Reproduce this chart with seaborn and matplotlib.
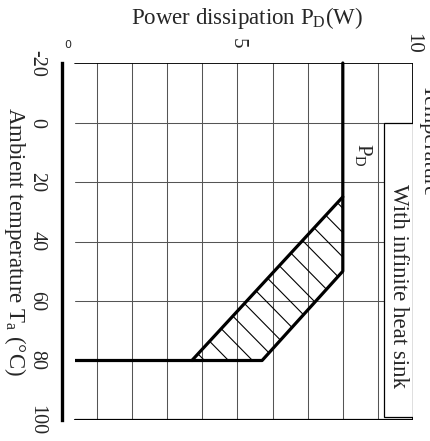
import numpy as np
import matplotlib
matplotlib.use("Agg")
import matplotlib.pyplot as plt
import matplotlib.transforms as mtransforms
from matplotlib.patches import Polygon, Rectangle
import seaborn as sns

# Axis ticks
temp_ticks = [-20, 0, 20, 40, 60, 80, 100]        # Ambient temperature Ta (°C)
power_ticks = [0, 5, 10]                           # Power dissipation PD (W)
power_grid = [1, 2, 3, 4, 5, 6, 7, 8, 9]
temp_grid = [0, 20, 40, 60]

# Derating curves
heatsink_ta = [-20, 50, 80, 80]
heatsink_pd = [8.0, 8.0, 5.7, 0.0]
inner_ta = [25, 80]
inner_pd = [8.0, 3.7]
# Hatched band between the two curves
band_ta = [25, 50, 80, 80]
band_pd = [8.0, 8.0, 5.7, 3.7]

sns.set_style("white")
plt.rcParams['font.family'] = ['Liberation Serif', 'DejaVu Serif']
plt.rcParams['mathtext.fontset'] = 'custom'
plt.rcParams['mathtext.rm'] = 'Liberation Serif'
plt.rcParams['mathtext.it'] = 'Liberation Serif:italic'

W, H = 431, 441
fig = plt.figure(figsize=(W / 100, H / 100), dpi=100)
x0, x1, y0, y1 = 62, 413, 63, 420
ax = fig.add_axes([x0 / W, 1 - y1 / H, (x1 - x0) / W, (y1 - y0) / H])
ax.set_xlim(0, 10)
ax.set_ylim(100, -20)
ax.set_xticks([])
ax.set_yticks([])
for s in ['top', 'right', 'bottom']:
    ax.spines[s].set_visible(False)
ax.spines['left'].set_linewidth(2.4)
ax.spines['left'].set_color('black')

inset = 13 / (x1 - x0)  # frame starts a little right of the PD = 0 axis

# grid
for p in power_grid:
    ax.axvline(p, color='#555555', lw=0.75, zorder=1)
for t in temp_grid:
    ax.axhline(t, xmin=inset, color='#555555', lw=0.75, zorder=1)

# frame
ax.axhline(-20, xmin=inset, color='black', lw=1.3, zorder=2)
ax.axhline(100, xmin=inset, color='black', lw=1.6, zorder=2)
ax.axvline(10, color='black', lw=1.3, zorder=2)

# label box
box = Rectangle((9.17, 0), 10 - 9.17, 99, facecolor='white',
                edgecolor='black', lw=0.9, zorder=3)
ax.add_patch(box)
ax.text(9.58, 55, "With infinite heat sink", rotation=-90, ha='center',
        va='center', fontsize=16.5, zorder=4)

# curves
clip = Rectangle((inset, -0.05), 1.1, 1.1, transform=ax.transAxes,
                 facecolor='none', edgecolor='none')
ax.add_patch(clip)
sns.lineplot(x=heatsink_pd, y=heatsink_ta, sort=False, estimator=None,
             color='black', lw=2.3, ax=ax, zorder=5)
ax.lines[-1].set_clip_path(clip)
sns.lineplot(x=inner_pd, y=inner_ta, sort=False, estimator=None,
             color='black', lw=2.3, ax=ax, zorder=5)

# hatching inside the band
band = Polygon(np.column_stack([band_pd, band_ta]), closed=True,
               facecolor='none', edgecolor='none')
ax.add_patch(band)
step = 24 / (x1 - x0)
for c in np.arange(-1.0, 2.0 + step, step):
    ln, = ax.plot([0, 1], [c, c - 1], transform=ax.transAxes,
                  color='black', lw=0.8, zorder=4)
    ln.set_clip_path(band)

ax.text(8.6, 11, "P$_{\\rm D}$", rotation=-90, ha='center', va='center',
        fontsize=15, zorder=4)

# temperature tick labels
tr_y = mtransforms.blended_transform_factory(fig.transFigure, ax.transData)
for t in temp_ticks:
    ax.text(37 / W, t, f"{t}", transform=tr_y, rotation=-90, ha='center',
            va='center', fontsize=14.5, clip_on=False)

# power tick labels
tr_x = mtransforms.blended_transform_factory(ax.transData, fig.transFigure)
for p in power_ticks:
    if p == 0:
        ax.annotate(f"{p}", xy=(p, 1 - 45 / H), xycoords=tr_x,
                    xytext=(6, 0), textcoords='offset pixels', ha='center',
                    va='center', fontsize=8, family='DejaVu Sans',
                    annotation_clip=False)
    else:
        ax.text(p, 1 - 43 / H, f"{p}", transform=tr_x, rotation=-90,
                ha='center', va='center', fontsize=15, clip_on=False)

fig.text(247 / W, 1 - 18 / H, "Power dissipation P$_{\\rm D}$(W)",
         ha='center', va='center', fontsize=16.5)
fig.text(15 / W, 1 - 241 / H, "Ambient temperature T$_{\\rm a}$ (°C)",
         rotation=-90, ha='center', va='center', fontsize=16.5)
# heading that runs past the right edge of the sheet
fig.text(428 / W, 1 - 140 / H, "Temperature", rotation=-90, ha='center',
         va='center', fontsize=16)

fig.savefig("out.png", dpi=100)
